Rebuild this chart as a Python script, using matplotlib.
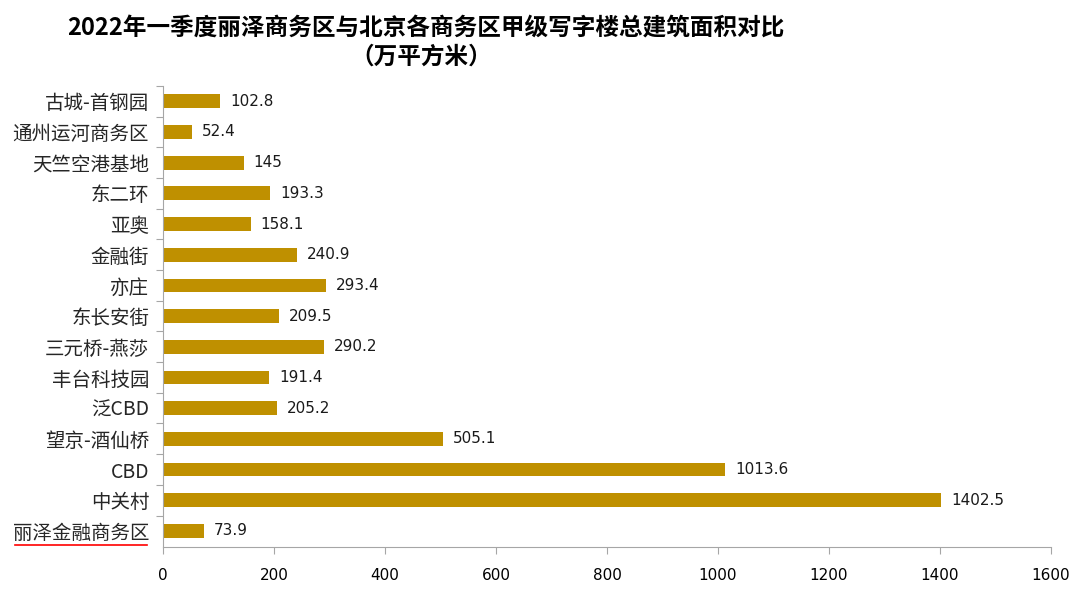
import matplotlib
matplotlib.use("Agg")
import matplotlib.pyplot as plt
from matplotlib.lines import Line2D

plt.rcParams["font.family"] = ["Noto Sans CJK SC", "DejaVu Sans"]

# top to bottom as shown in the chart
districts = [
    "古城-首钢园", "通州运河商务区", "天竺空港基地", "东二环", "亚奥", "金融街",
    "亦庄", "东长安街", "三元桥-燕莎", "丰台科技园", "泛CBD", "望京-酒仙桥",
    "CBD", "中关村", "丽泽金融商务区",
]
areas = [102.8, 52.4, 145, 193.3, 158.1, 240.9, 293.4, 209.5, 290.2,
         191.4, 205.2, 505.1, 1013.6, 1402.5, 73.9]
value_labels = ["102.8", "52.4", "145", "193.3", "158.1", "240.9", "293.4",
                "209.5", "290.2", "191.4", "205.2", "505.1", "1013.6",
                "1402.5", "73.9"]
x_ticks = [0, 200, 400, 600, 800, 1000, 1200, 1400, 1600]

BAR_COLOR = "#BF9000"
AXIS_COLOR = "#A6A6A6"

fig = plt.figure(figsize=(10.8, 5.97), dpi=100)
ax = fig.add_axes([0.151, 0.084, 0.822, 0.772])

pos = list(range(len(districts)))[::-1]
ax.barh(pos, areas, height=0.45, color=BAR_COLOR)

for p, v, s in zip(pos, areas, value_labels):
    ax.text(v + 18, p, s, va="center", ha="left", fontsize=11,
            color="#1a1a1a", family="DejaVu Sans")

ax.set_xlim(0, 1600)
ax.set_ylim(-0.52, 14.42)
ax.set_xticks(x_ticks)
ax.set_xticklabels([str(t) for t in x_ticks], fontsize=11, family="DejaVu Sans")
ax.set_yticks([p + 0.5 for p in pos], minor=False)
ax.set_yticklabels([])
ax.set_yticks(pos, minor=True)
ax.set_yticklabels(districts, minor=True, fontsize=14, color="#262626")
ax.tick_params(axis="y", which="minor", length=0, pad=10)
ax.tick_params(axis="y", which="major", length=5, color=AXIS_COLOR)
ax.tick_params(axis="x", length=5, color=AXIS_COLOR, pad=10)

for side in ["top", "right"]:
    ax.spines[side].set_visible(False)
ax.spines["left"].set_color(AXIS_COLOR)
ax.spines["bottom"].set_color(AXIS_COLOR)

fig.text(0.394, 0.953, "2022年一季度丽泽商务区与北京各商务区甲级写字楼总建筑面积对比",
         ha="center", va="center", fontsize=17, fontweight="bold")
fig.text(0.39, 0.905, "（万平方米）", ha="center", va="center",
         fontsize=17, fontweight="bold")

# red underline below the 丽泽 label
fig.canvas.draw()
renderer = fig.canvas.get_renderer()
for lbl in ax.get_yticklabels(minor=True):
    if lbl.get_text() == "丽泽金融商务区":
        bb = lbl.get_window_extent(renderer).transformed(fig.transFigure.inverted())
        fig.add_artist(Line2D([bb.x0 + 0.002, bb.x1 - 0.002],
                              [bb.y0 - 0.002, bb.y0 - 0.002],
                              color="red", lw=1.2, transform=fig.transFigure))

fig.savefig("out.png", dpi=100)
